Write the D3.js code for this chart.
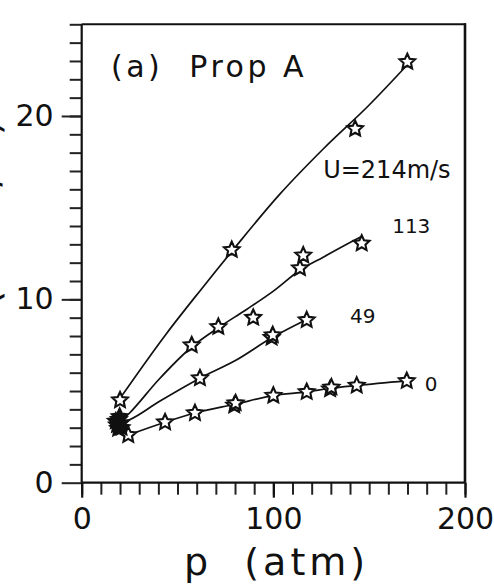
<!DOCTYPE html>
<html>
<head>
<meta charset="utf-8">
<script src="https://cdn.jsdelivr.net/npm/d3@7"></script>
<style>
  html, body { margin: 0; padding: 0; background: #fff; }
  svg { display: block; }
  text { font-family: "DejaVu Sans", sans-serif; fill: #111; white-space: pre; }
</style>
</head>
<body>
<svg id="chart" width="494" height="586"></svg>
<script>
// Burning rate r versus pressure p for several crossflow velocities U

// measured points [p (atm), r]
const u214Pts = [[20, 4.5], [78.3, 12.7], [142.7, 19.3], [169.9, 22.95]];
const u113Pts = [[57.4, 7.5], [71.3, 8.5], [89.5, 9.0], [113.9, 11.7], [115.6, 12.4], [146.1, 13.05]];
const u49Pts  = [[61.7, 5.7], [99.1, 7.92], [99.7, 8.05], [117.4, 8.87]];
const u0Pts   = [[24.3, 2.6], [43.5, 3.3], [59.1, 3.8], [79.6, 4.22], [80.3, 4.34], [100, 4.75],
                 [117.4, 4.95], [129.6, 5.1], [130.3, 5.2], [143.5, 5.3], [169.6, 5.55]];
// overlapping low-pressure runs near p = 20 atm
const clusterPts = [[18.4, 3.15], [19.4, 3.45], [20.5, 3.25], [19.0, 2.95], [20.8, 3.0], [19.8, 3.6], [17.8, 3.35]];

// fitted curves [p, r]
const u214Fit = [[20, 4.6], [44, 8.1], [62, 10.5], [79, 12.7], [103.5, 15.75], [126, 18.2], [150, 20.6], [170, 22.8]];
const u113Fit = [[20, 3.3], [25, 3.8], [40, 5.6], [57.4, 7.4], [71.3, 8.45], [86, 9.45], [100, 10.45],
                 [114, 11.6], [126, 12.3], [140, 13.1], [145.5, 13.4]];
const u49Fit  = [[20, 3.25], [25.2, 3.45], [40, 4.4], [61.7, 5.7], [80.9, 6.7], [99.1, 7.9], [117.4, 8.9]];
const u0Fit   = [[24.3, 2.6], [43.5, 3.3], [59.1, 3.8], [80, 4.28], [100, 4.75], [117.4, 4.95],
                 [130, 5.15], [143.5, 5.3], [169.6, 5.55]];

// curve labels
const curveLabels = ["U=214m/s", "113", "49", "0"];
const curveLabelAt = [[126, 16.6], [162, 13.6], [140, 8.7], [179, 5.0]];

// axis ticks
const xMajor = [0, 100, 200];
const xMinor = d3.range(0, 201, 10);
const yMajor = [0, 10, 20];
const yMinor = d3.range(1, 26, 1);

const panelTitle = "(a)  Prop A";
const xTitle = "p  (atm)";
const yTitle = "r  (mm/s)";

const svg = d3.select("#chart");
const x = d3.scaleLinear().domain([0, 200]).range([81.7, 465]);
const y = d3.scaleLinear().domain([0, 25]).range([482.7, 24.3]);

// y axis label (runs off the left edge of the panel)
svg.append("text")
  .attr("transform", `translate(-1, ${y(13.1)}) rotate(-90)`)
  .attr("text-anchor", "middle")
  .attr("font-size", 40)
  .attr("letter-spacing", 8.6)
  .text(yTitle);

// minor / major ticks on the left
svg.append("g")
  .attr("transform", `translate(${x(0)},0)`)
  .call(d3.axisLeft(y).tickValues(yMinor).tickSize(12).tickFormat(""))
  .call(g => g.select(".domain").remove())
  .call(g => g.selectAll("line").attr("stroke", "#222").attr("stroke-width", 2));

svg.append("g")
  .attr("transform", `translate(${x(0)},0)`)
  .call(d3.axisLeft(y).tickValues(yMajor).tickSize(20).tickPadding(8).tickFormat(d3.format("d")))
  .call(g => g.select(".domain").remove())
  .call(g => g.selectAll("line").attr("stroke", "#222").attr("stroke-width", 2))
  .call(g => g.selectAll("text").attr("font-size", 30).attr("font-family", "DejaVu Sans").attr("fill", "#111"));

// ticks along the bottom
svg.append("g")
  .attr("transform", `translate(0,${y(0)})`)
  .call(d3.axisBottom(x).tickValues(xMinor).tickSize(12).tickFormat(""))
  .call(g => g.select(".domain").remove())
  .call(g => g.selectAll("line").attr("stroke", "#222").attr("stroke-width", 2));

svg.append("g")
  .attr("transform", `translate(0,${y(0)})`)
  .call(d3.axisBottom(x).tickValues(xMajor).tickSize(15).tickPadding(10).tickFormat(d3.format("d")))
  .call(g => g.select(".domain").remove())
  .call(g => g.selectAll("line").attr("stroke", "#111").attr("stroke-width", 2.2))
  .call(g => g.selectAll("text").attr("font-size", 30).attr("font-family", "DejaVu Sans").attr("fill", "#111"));

// frame
const frame = svg.append("g").attr("stroke", "#111").attr("fill", "none");
frame.append("line").attr("x1", x(0)).attr("x2", x(0)).attr("y1", y(25)).attr("y2", y(0)).attr("stroke-width", 2.2);
frame.append("line").attr("x1", x(200)).attr("x2", x(200)).attr("y1", y(25) - 1).attr("y2", y(0)).attr("stroke-width", 2.6);
frame.append("line").attr("x1", x(0)).attr("x2", x(200)).attr("y1", y(0)).attr("y2", y(0)).attr("stroke-width", 2.2);
frame.append("line").attr("x1", x(0)).attr("x2", x(200) + 1).attr("y1", y(25)).attr("y2", y(25)).attr("stroke-width", 2);

// fitted curves
const line = d3.line().x(d => x(d[0])).y(d => y(d[1])).curve(d3.curveMonotoneX);
svg.append("g")
  .selectAll("path")
  .data([u214Fit, u113Fit, u49Fit, u0Fit])
  .join("path")
  .attr("d", line)
  .attr("fill", "none")
  .attr("stroke", "#111")
  .attr("stroke-width", 1.7);

// five-pointed star marker
function starPath(R, r) {
  const pts = d3.range(10).map(i => {
    const a = -Math.PI / 2 + i * Math.PI / 5;
    const rad = i % 2 === 0 ? R : r;
    return [rad * Math.cos(a), rad * Math.sin(a)];
  });
  return "M" + pts.map(p => p.join(",")).join("L") + "Z";
}
const star = starPath(8.2, 3.9);

const openPts = [].concat(u214Pts, u113Pts, u49Pts, u0Pts);
svg.append("g")
  .selectAll("path")
  .data(openPts)
  .join("path")
  .attr("transform", d => `translate(${x(d[0])},${y(d[1])})`)
  .attr("d", star)
  .attr("fill", "#fff")
  .attr("stroke", "#111")
  .attr("stroke-width", 2.1)
  .attr("stroke-linejoin", "miter");

svg.append("g")
  .selectAll("path")
  .data(clusterPts)
  .join("path")
  .attr("transform", d => `translate(${x(d[0])},${y(d[1])})`)
  .attr("d", star)
  .attr("fill", "#111")
  .attr("stroke", "#111")
  .attr("stroke-width", 2);

// curve labels
svg.append("g")
  .selectAll("text")
  .data(curveLabels)
  .join("text")
  .attr("x", (d, i) => x(curveLabelAt[i][0]))
  .attr("y", (d, i) => y(curveLabelAt[i][1]))
  .attr("font-size", (d, i) => i === 0 ? 24 : 20)
  .text(d => d);

// panel title
svg.append("text")
  .attr("x", 111)
  .attr("y", 77)
  .attr("font-size", 30)
  .attr("letter-spacing", 3.5)
  .text(panelTitle);

// x axis title
svg.append("text")
  .attr("x", 184)
  .attr("y", 575)
  .attr("font-size", 38)
  .attr("letter-spacing", 4)
  .text(xTitle);
</script>
</body>
</html>
